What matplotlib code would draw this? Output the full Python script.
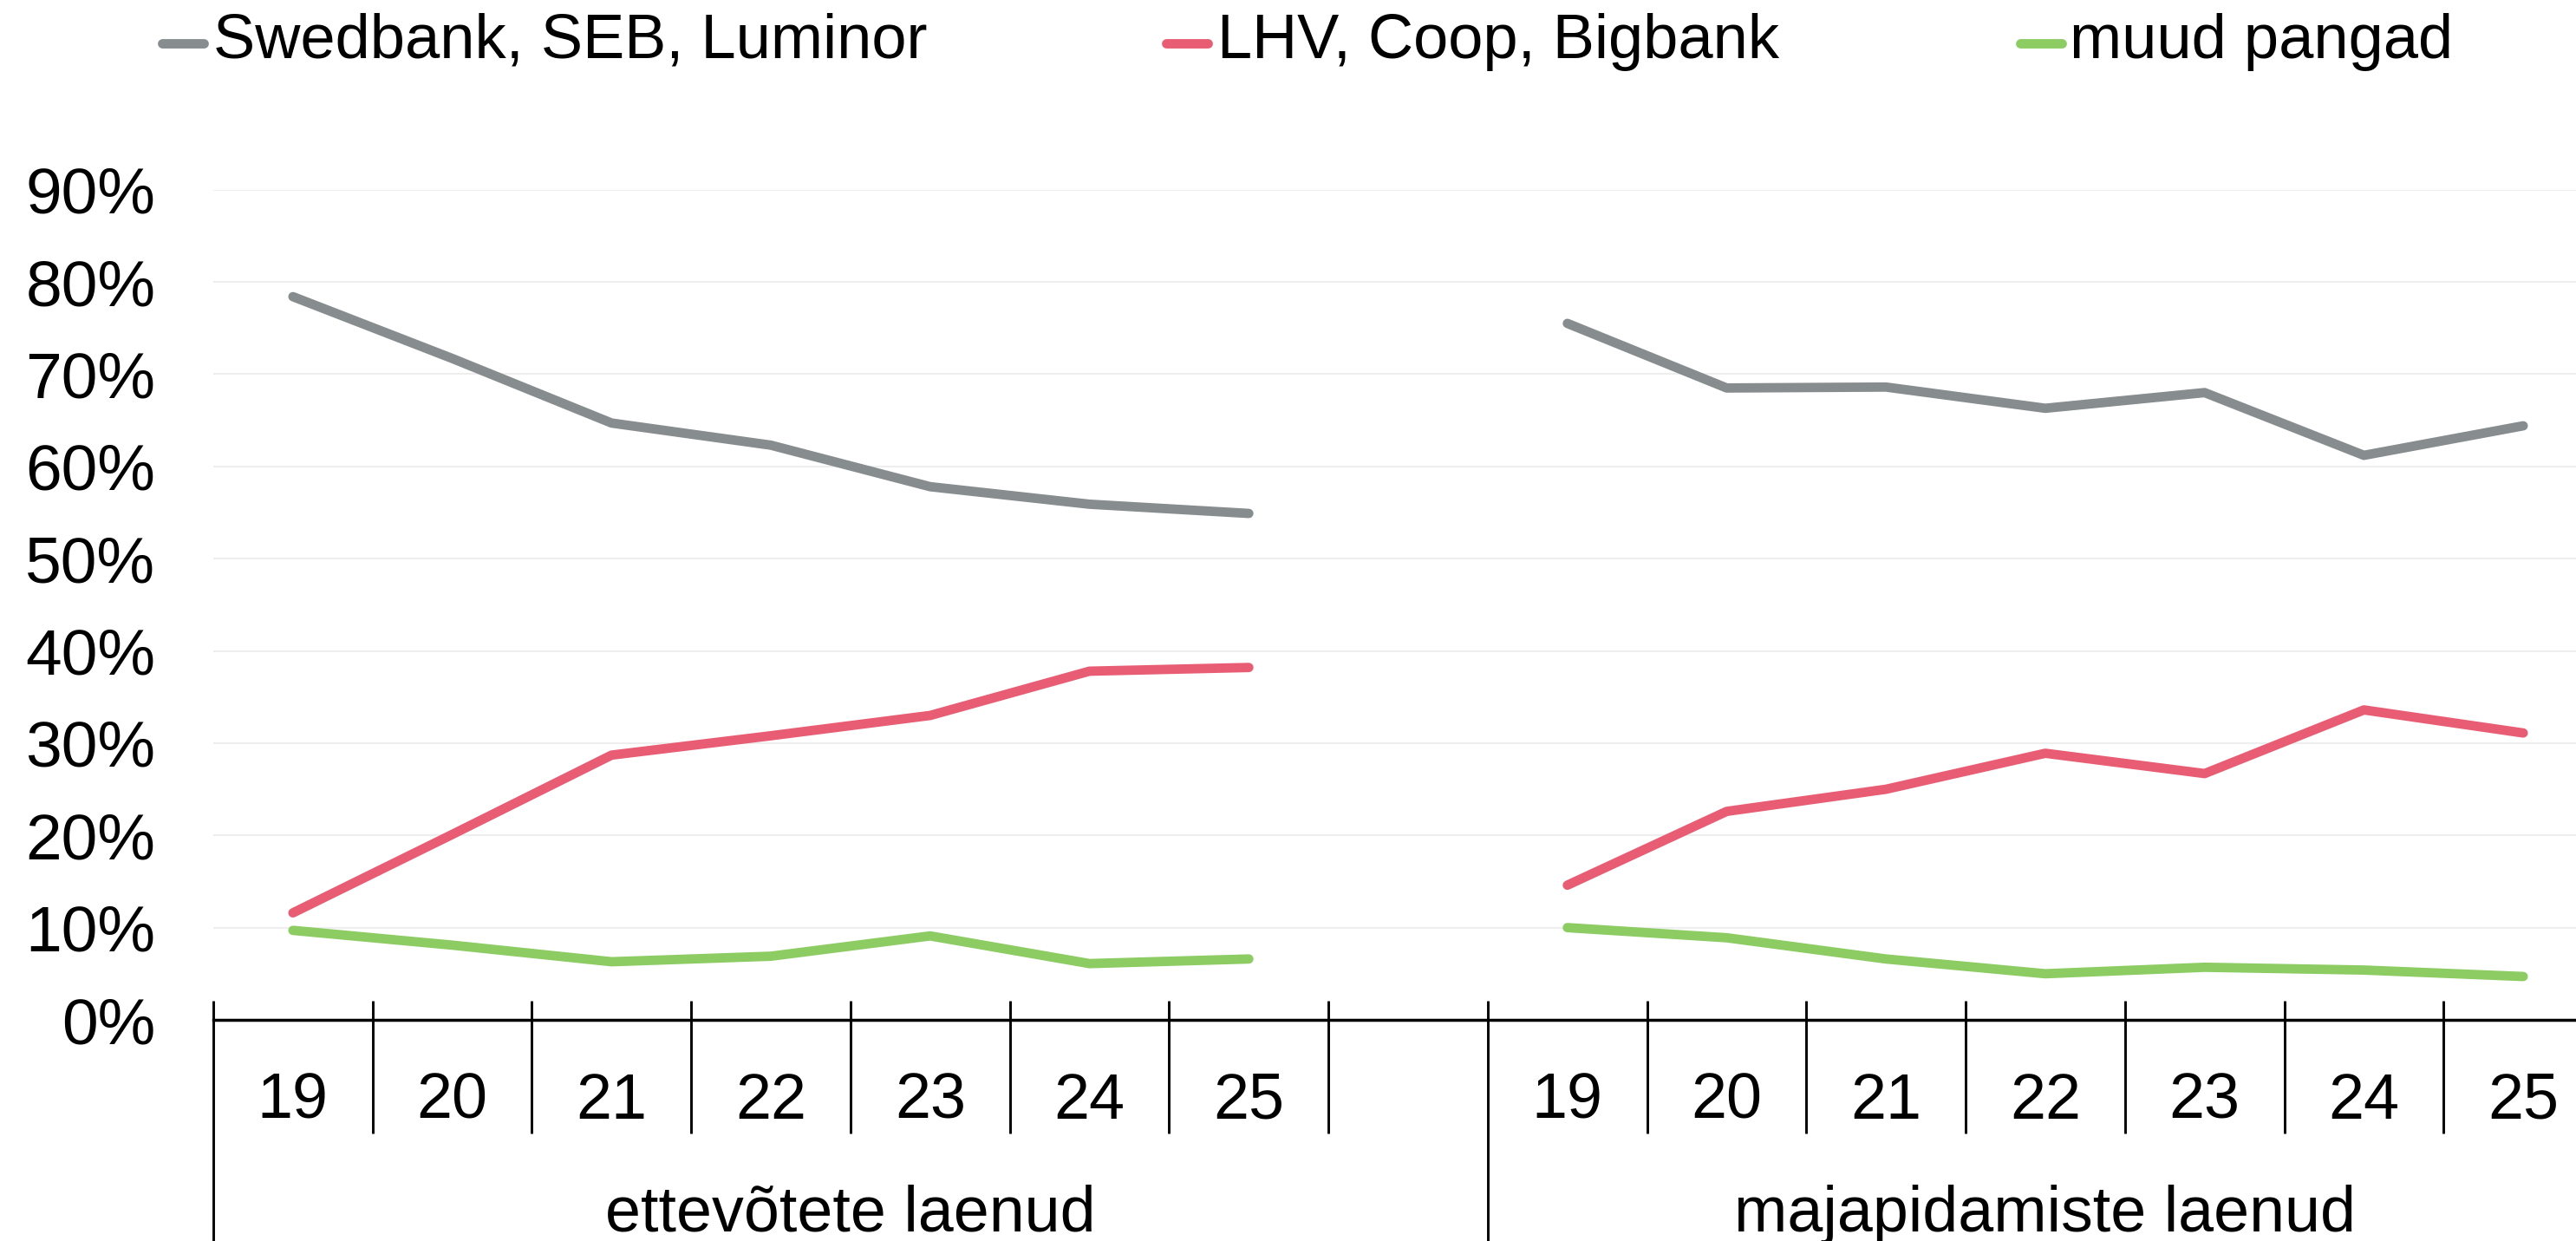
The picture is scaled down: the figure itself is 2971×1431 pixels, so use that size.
import matplotlib
matplotlib.use('Agg')
import matplotlib.pyplot as plt
from matplotlib.lines import Line2D
import numpy as np

plt.rcParams['font.family'] = ['Liberation Sans', 'DejaVu Sans']

# ---- data ----
years = ['19', '20', '21', '22', '23', '24', '25']
groups = ['ettevõtete laenud', 'majapidamiste laenud']
series_names = ['Swedbank, SEB, Luminor', 'LHV, Coop, Bigbank', 'muud pangad']
big3_firms = [78.4, 71.7, 64.7, 62.3, 57.8, 55.9, 54.9]
mid3_firms = [11.6, 20.1, 28.7, 30.8, 33.0, 37.8, 38.2]
other_firms = [9.7, 8.1, 6.3, 6.9, 9.1, 6.1, 6.6]
big3_house = [75.5, 68.5, 68.6, 66.3, 68.0, 61.2, 64.4]
mid3_house = [14.6, 22.6, 25.0, 28.9, 26.7, 33.6, 31.1]
other_house = [10.0, 8.9, 6.6, 5.0, 5.7, 5.4, 4.7]
yticks = [0, 10, 20, 30, 40, 50, 60, 70, 80, 90]

colors = ['#878C8E', '#E85D74', '#8CCC63']

W, H = 2971, 1431
DPI = 100
fig = plt.figure(figsize=(W / DPI, H / DPI), dpi=DPI)
fig.patch.set_facecolor('white')

ax_left, ax_right = 246, 3002
ax_bottom, ax_top = 1176, 218.7
ax = fig.add_axes([ax_left / W, (H - ax_bottom) / H,
                   (ax_right - ax_left) / W, (ax_bottom - ax_top) / H])

n = len(years)
group1_slots = n + 1          # includes one empty slot
total_slots = group1_slots + n
x1 = np.arange(n) + 0.5
x2 = group1_slots + np.arange(n) + 0.5

firms = [big3_firms, mid3_firms, other_firms]
house = [big3_house, mid3_house, other_house]
lw = 7.8
for vals_f, vals_h, c in zip(firms, house, colors):
    ax.plot(x1, vals_f, color=c, lw=lw, solid_capstyle='round', solid_joinstyle='round', zorder=3)
    ax.plot(x2, vals_h, color=c, lw=lw, solid_capstyle='round', solid_joinstyle='round', zorder=3)

ax.set_xlim(0, total_slots)
ax.set_ylim(0, 90)

# y axis
ax.set_yticks(yticks)
ax.set_yticklabels([f'{v}%' for v in yticks], fontsize=54)
ax.tick_params(axis='y', length=0, pad=48)
ax.yaxis.grid(True, color='#EEEEEE', lw=1.5)
ax.set_axisbelow(True)

for s in ['left', 'right', 'top']:
    ax.spines[s].set_visible(False)
ax.spines['bottom'].set_linewidth(2.5)
ax.spines['bottom'].set_color('black')

# x category labels
ax.set_xticks(np.concatenate([x1, x2]))
ax.set_xticklabels(years + years, fontsize=53)
ax.tick_params(axis='x', length=0, pad=43)

axh = ax_bottom - ax_top
trans = ax.get_xaxis_transform()
bounds_short = [b for b in range(1, total_slots) if b != group1_slots]
bounds_long = [0, group1_slots, total_slots]
ax.vlines(bounds_short, -131 / axh, 22 / axh, transform=trans, color='black', lw=2.1, clip_on=False)
ax.vlines(bounds_long, -300 / axh, 22 / axh, transform=trans, color='black', lw=2.1, clip_on=False)

group_centers = [group1_slots / 2, group1_slots + n / 2]
for gx, g in zip(group_centers, groups):
    ax.text(gx, -244 / axh, g, transform=trans, ha='center', va='baseline', fontsize=53, clip_on=False)

# legend (manual placement)
marker_x = [182, 1340, 2325]
text_x = [246, 1404, 2387]
for mx, tx, name, c in zip(marker_x, text_x, series_names, colors):
    fig.add_artist(Line2D([(mx + 5) / W, (mx + 53) / W], [1 - 50 / H, 1 - 50 / H],
                          transform=fig.transFigure, color=c, lw=lw, solid_capstyle='round'))
    fig.text(tx / W, 1 - 67 / H, name, ha='left', va='baseline', fontsize=52)

fig.savefig('out.png', dpi=DPI, facecolor='white')
